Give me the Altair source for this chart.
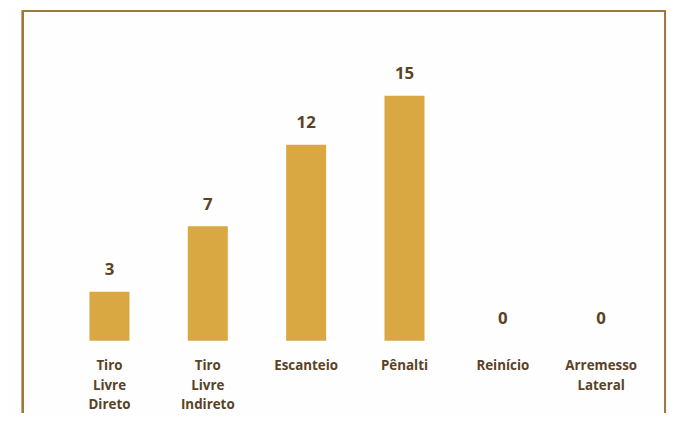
import altair as alt
import pandas as pd

categories = ["Tiro\nLivre\nDireto", "Tiro\nLivre\nIndireto", "Escanteio", "Pênalti", "Reinício", "Arremesso\nLateral"]
values = [3, 7, 12, 15, 0, 0]

df = pd.DataFrame({"cat": categories, "val": values})

BAR = "#d9a842"
TXT = "#5a4226"
BORDER = "#9c7a3c"

xscale = alt.Scale(domain=categories, paddingInner=0.593, paddingOuter=0.647, align=0.64, round=False)
yscale = alt.Scale(domain=[0, 15], range=[334, 86.5])

base = alt.Chart(df)

bars = base.mark_bar(color=BAR).encode(
    x=alt.X("cat:N", scale=xscale, axis=None, sort=categories),
    y=alt.Y("val:Q", scale=yscale, axis=None),
)

vals = base.mark_text(font="Open Sans", fontWeight="bold", fontSize=17, color=TXT,
                      baseline="bottom", dy=-13).encode(
    x=alt.X("cat:N", scale=xscale, axis=None, sort=categories),
    y=alt.Y("val:Q", scale=yscale, axis=None),
    text="val:Q",
)

labels = base.mark_text(font="Open Sans", fontWeight="bold", fontSize=13.5, color=TXT,
                        baseline="top", dy=19, lineBreak="\n", lineHeight=19.5).encode(
    x=alt.X("cat:N", scale=xscale, axis=None, sort=categories),
    y=alt.datum(0, scale=yscale),
    text="cat:N",
)

top = alt.Chart(df).mark_rule(color=BORDER, strokeWidth=2).encode(
    x=alt.value(15), x2=alt.value(665), y=alt.value(1))
left = alt.Chart(df).mark_rule(color=BORDER, strokeWidth=2).encode(
    x=alt.value(15), y=alt.value(0), y2=alt.value(407))
right = alt.Chart(df).mark_rule(color=BORDER, strokeWidth=2).encode(
    x=alt.value(664), y=alt.value(0), y2=alt.value(407))

chart = alt.layer(bars, vals, labels, top, left, right).properties(
    width=666, height=407, autosize="none", padding=0, background="#fefefe"
).configure_view(stroke=None)

chart.save("out.html", embed_options={"renderer": "svg", "actions": False})
